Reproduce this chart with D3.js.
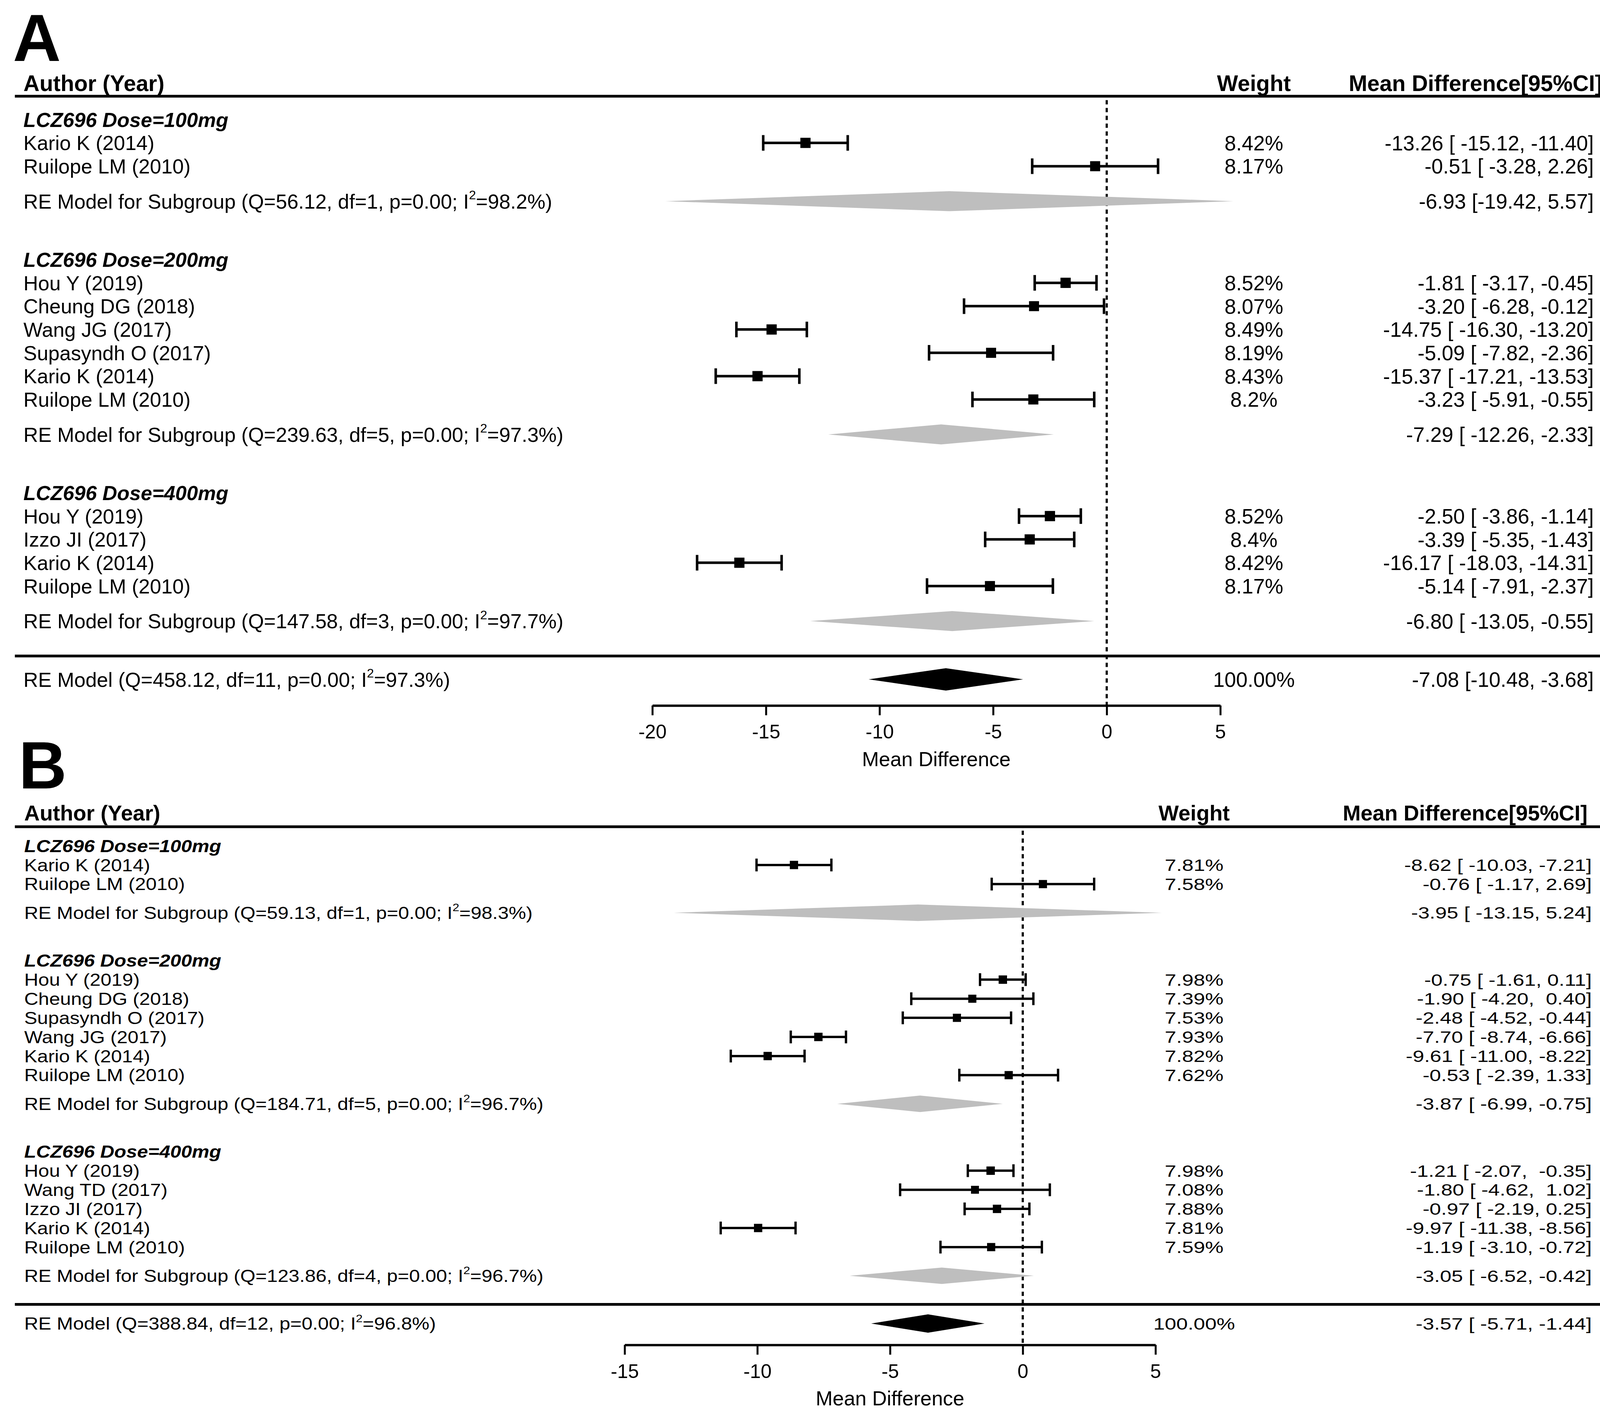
<!DOCTYPE html>
<html>
<head>
<meta charset="utf-8">
<script src="https://cdn.jsdelivr.net/npm/d3@7"></script>
<style>
body { margin: 0; background: #fff; }
text { white-space: pre; }
</style>
</head>
<body>
<div id="chart"></div>
<script>
// ---------- Panel A ----------
var aGroups = ["LCZ696 Dose=100mg", "LCZ696 Dose=200mg", "LCZ696 Dose=400mg"];
var aStudies = ["Kario K (2014)", "Ruilope LM (2010)",
    "Hou Y (2019)", "Cheung DG (2018)", "Wang JG (2017)", "Supasyndh O (2017)", "Kario K (2014)", "Ruilope LM (2010)",
    "Hou Y (2019)", "Izzo JI (2017)", "Kario K (2014)", "Ruilope LM (2010)"];
var aStudyGroup = [0, 0, 1, 1, 1, 1, 1, 1, 2, 2, 2, 2];
var aEst  = [-13.26, -0.51, -1.81, -3.20, -14.75, -5.09, -15.37, -3.23, -2.50, -3.39, -16.17, -5.14];
var aLow  = [-15.12, -3.28, -3.17, -6.28, -16.30, -7.82, -17.21, -5.91, -3.86, -5.35, -18.03, -7.91];
var aHigh = [-11.40, 2.26, -0.45, -0.12, -13.20, -2.36, -13.53, -0.55, -1.14, -1.43, -14.31, -2.37];
var aWeight = ["8.42%", "8.17%", "8.52%", "8.07%", "8.49%", "8.19%", "8.43%", "8.2%", "8.52%", "8.4%", "8.42%", "8.17%"];
var aCiText = ["-13.26 [ -15.12, -11.40]", "-0.51 [ -3.28, 2.26]",
    "-1.81 [ -3.17, -0.45]", "-3.20 [ -6.28, -0.12]", "-14.75 [ -16.30, -13.20]", "-5.09 [ -7.82, -2.36]",
    "-15.37 [ -17.21, -13.53]", "-3.23 [ -5.91, -0.55]",
    "-2.50 [ -3.86, -1.14]", "-3.39 [ -5.35, -1.43]", "-16.17 [ -18.03, -14.31]", "-5.14 [ -7.91, -2.37]"];
var aSubEst  = [-6.93, -7.29, -6.80];
var aSubLow  = [-19.42, -12.26, -13.05];
var aSubHigh = [5.57, -2.33, -0.55];
var aSubQ  = ["56.12", "239.63", "147.58"];
var aSubDf = ["1", "5", "3"];
var aSubI2 = ["98.2", "97.3", "97.7"];
var aSubCiText = ["-6.93 [-19.42, 5.57]", "-7.29 [ -12.26, -2.33]", "-6.80 [ -13.05, -0.55]"];
var aAll = [-7.08, -10.48, -3.68];          // estimate, low, high
var aAllStat = ["458.12", "11", "97.3"];    // Q, df, I2
var aAllText = ["100.00%", "-7.08 [-10.48, -3.68]"];
var aTicks = [-20, -15, -10, -5, 0, 5];

// ---------- Panel B ----------
var bGroups = ["LCZ696 Dose=100mg", "LCZ696 Dose=200mg", "LCZ696 Dose=400mg"];
var bStudies = ["Kario K (2014)", "Ruilope LM (2010)",
    "Hou Y (2019)", "Cheung DG (2018)", "Supasyndh O (2017)", "Wang JG (2017)", "Kario K (2014)", "Ruilope LM (2010)",
    "Hou Y (2019)", "Wang TD (2017)", "Izzo JI (2017)", "Kario K (2014)", "Ruilope LM (2010)"];
var bStudyGroup = [0, 0, 1, 1, 1, 1, 1, 1, 2, 2, 2, 2, 2];
// plotted positions (as drawn in the figure)
var bEst  = [-8.62, 0.76, -0.75, -1.90, -2.48, -7.70, -9.61, -0.53, -1.21, -1.80, -0.97, -9.97, -1.19];
var bLow  = [-10.03, -1.17, -1.61, -4.20, -4.52, -8.74, -11.00, -2.39, -2.07, -4.62, -2.19, -11.38, -3.10];
var bHigh = [-7.21, 2.69, 0.11, 0.40, -0.44, -6.66, -8.22, 1.33, -0.35, 1.02, 0.25, -8.56, 0.72];
var bWeight = ["7.81%", "7.58%", "7.98%", "7.39%", "7.53%", "7.93%", "7.82%", "7.62%",
    "7.98%", "7.08%", "7.88%", "7.81%", "7.59%"];
var bCiText = ["-8.62 [ -10.03, -7.21]", "-0.76 [ -1.17, 2.69]",
    "-0.75 [ -1.61, 0.11]", "-1.90 [ -4.20,  0.40]", "-2.48 [ -4.52, -0.44]", "-7.70 [ -8.74, -6.66]",
    "-9.61 [ -11.00, -8.22]", "-0.53 [ -2.39, 1.33]",
    "-1.21 [ -2.07,  -0.35]", "-1.80 [ -4.62,  1.02]", "-0.97 [ -2.19, 0.25]", "-9.97 [ -11.38, -8.56]",
    "-1.19 [ -3.10, -0.72]"];
var bSubEst  = [-3.95, -3.87, -3.05];
var bSubLow  = [-13.15, -6.99, -6.52];
var bSubHigh = [5.24, -0.75, 0.42];
var bSubQ  = ["59.13", "184.71", "123.86"];
var bSubDf = ["1", "5", "4"];
var bSubI2 = ["98.3", "96.7", "96.7"];
var bSubCiText = ["-3.95 [ -13.15, 5.24]", "-3.87 [ -6.99, -0.75]", "-3.05 [ -6.52, -0.42]"];
var bAll = [-3.57, -5.71, -1.44];
var bAllStat = ["388.84", "12", "96.8"];
var bAllText = ["100.00%", "-3.57 [ -5.71, -1.44]"];
var bTicks = [-15, -10, -5, 0, 5];

var W = 4152, H = 3637;
var FONT = "'Liberation Sans', Arial, sans-serif";

var svg = d3.select("#chart").append("svg")
    .attr("width", W)
    .attr("height", H)
    .style("background", "#fff");

svg.append("rect").attr("width", W).attr("height", H).attr("fill", "#fff");

// "(Q=.., df=.., p=0.00; I²=..%)" with a raised 2
function statLabel(sel, prefix, q, df, i2, fs) {
    sel.append("tspan").text(prefix + "(Q=" + q + ", df=" + df + ", p=0.00; I");
    sel.append("tspan").attr("dy", -0.45 * fs).style("font-size", (0.62 * fs) + "px").text("2");
    sel.append("tspan").attr("dy", 0.45 * fs).text("=" + i2 + "%)");
}

function drawPanel(p, L) {
    var g = svg.append("g");
    var x = d3.scaleLinear().domain(L.domain).range(L.range);
    var y = d3.scaleLinear().domain([0, 1]).range([L.row0, L.row0 + L.unit]);

    // work out the row of every line in the plot
    var rows = [], r = 0, lastSub = 0;
    p.groups.forEach(function(name, gi) {
        rows.push({type: "group", row: r, label: name});
        p.studies.forEach(function(s, i) {
            if (p.studyGroup[i] === gi) { r += 1; rows.push({type: "study", row: r, i: i}); }
        });
        r += 1.5;
        rows.push({type: "sub", row: r, gi: gi});
        lastSub = r;
        r += 2.5;
    });
    var lineRow = lastSub + 1.5, allRow = lastSub + 2.5, axisRow = allRow + 1.12;
    var axisY = y(axisRow);

    function leftPos(py) { return "translate(" + L.labelX + "," + py + ") scale(1," + L.leftSy + ")"; }
    function rightPos(px, py) { return "translate(" + px + "," + py + ") scale(1," + L.rightSy + ")"; }

    // panel letter
    g.append("text")
        .attr("x", L.letterX).attr("y", L.letterY)
        .style("font-family", FONT).style("font-weight", "bold").style("font-size", "170px")
        .text(L.letter);

    // column headers
    var headY = y(-1) - L.headGap;
    var head = g.append("g").style("font-family", FONT).style("font-weight", "bold")
        .style("font-size", L.headSize + "px");
    head.append("text").attr("x", L.labelX).attr("y", headY).text("Author (Year)");
    head.append("text").attr("x", L.weightX).attr("y", headY).attr("text-anchor", "middle").text("Weight");
    head.append("text").attr("x", L.headRight).attr("y", headY).attr("text-anchor", "end").text("Mean Difference[95%CI]");

    // horizontal rules
    [-1, lineRow].forEach(function(rr) {
        g.append("line")
            .attr("x1", 38).attr("x2", 4112)
            .attr("y1", y(rr)).attr("y2", y(rr))
            .attr("stroke", "#000").attr("stroke-width", 7);
    });

    // reference line at zero
    g.append("line")
        .attr("x1", x(0)).attr("x2", x(0))
        .attr("y1", y(-1) + 10).attr("y2", axisY)
        .attr("stroke", "#000").attr("stroke-width", 5.5)
        .attr("stroke-dasharray", "11,9");

    var left = g.append("g").style("font-family", FONT).style("font-size", L.leftSize + "px");
    var right = g.append("g").style("font-family", FONT).style("font-size", L.rightSize + "px");

    // group headings
    left.selectAll(".grp")
        .data(rows.filter(function(d) { return d.type === "group"; }))
        .enter().append("text")
        .attr("class", "grp")
        .attr("transform", function(d) { return leftPos(y(d.row)); })
        .attr("dy", "0.36em")
        .style("font-weight", "bold").style("font-style", "italic")
        .text(function(d) { return d.label; });

    var studyRows = rows.filter(function(d) { return d.type === "study"; });
    var maxW = d3.max(p.weight, function(w) { return parseFloat(w); });
    function half(d) { return L.unit * L.box / 2 * Math.sqrt(parseFloat(p.weight[d.i]) / maxW); }

    left.selectAll(".study")
        .data(studyRows)
        .enter().append("text")
        .attr("class", "study")
        .attr("transform", function(d) { return leftPos(y(d.row)); })
        .attr("dy", "0.36em")
        .text(function(d) { return p.studies[d.i]; });

    right.selectAll(".wt")
        .data(studyRows)
        .enter().append("text")
        .attr("class", "wt")
        .attr("transform", function(d) { return rightPos(L.weightX, y(d.row)); })
        .attr("dy", "0.36em")
        .attr("text-anchor", "middle")
        .text(function(d) { return p.weight[d.i]; });

    right.selectAll(".ci")
        .data(studyRows)
        .enter().append("text")
        .attr("class", "ci")
        .attr("transform", function(d) { return rightPos(L.ciRight, y(d.row)); })
        .attr("dy", "0.36em")
        .attr("text-anchor", "end")
        .text(function(d) { return p.ciText[d.i]; });

    // error bars
    var bars = g.selectAll(".bar")
        .data(studyRows)
        .enter().append("g")
        .attr("class", "bar")
        .attr("stroke", "#000").attr("stroke-width", L.lw);
    var cap = L.unit * 0.335;
    bars.append("line")
        .attr("x1", function(d) { return x(p.low[d.i]); })
        .attr("x2", function(d) { return x(p.high[d.i]); })
        .attr("y1", function(d) { return y(d.row); })
        .attr("y2", function(d) { return y(d.row); });
    bars.append("line")
        .attr("x1", function(d) { return x(p.low[d.i]); })
        .attr("x2", function(d) { return x(p.low[d.i]); })
        .attr("y1", function(d) { return y(d.row) - cap; })
        .attr("y2", function(d) { return y(d.row) + cap; });
    bars.append("line")
        .attr("x1", function(d) { return x(p.high[d.i]); })
        .attr("x2", function(d) { return x(p.high[d.i]); })
        .attr("y1", function(d) { return y(d.row) - cap; })
        .attr("y2", function(d) { return y(d.row) + cap; });
    bars.append("rect")
        .attr("stroke", "none").attr("fill", "#000")
        .attr("x", function(d) { return x(p.est[d.i]) - half(d); })
        .attr("y", function(d) { return y(d.row) - half(d); })
        .attr("width", function(d) { return 2 * half(d); })
        .attr("height", function(d) { return 2 * half(d); });

    // subgroup summaries
    var subRows = rows.filter(function(d) { return d.type === "sub"; });
    subRows.forEach(function(d) {
        var t = left.append("text").attr("transform", leftPos(y(d.row))).attr("dy", "0.36em");
        statLabel(t, "RE Model for Subgroup ", p.subQ[d.gi], p.subDf[d.gi], p.subI2[d.gi], L.leftSize);
    });
    g.selectAll(".subpoly")
        .data(subRows)
        .enter().append("path")
        .attr("class", "subpoly")
        .attr("fill", "#bebebe")
        .attr("d", function(d) {
            var cy = y(d.row), h = L.unit * 0.43;
            return "M" + x(p.subLow[d.gi]) + "," + cy +
                "L" + x(p.subEst[d.gi]) + "," + (cy - h) +
                "L" + x(p.subHigh[d.gi]) + "," + cy +
                "L" + x(p.subEst[d.gi]) + "," + (cy + h) + "Z";
        });
    right.selectAll(".subci")
        .data(subRows)
        .enter().append("text")
        .attr("class", "subci")
        .attr("transform", function(d) { return rightPos(L.ciRight, y(d.row)); })
        .attr("dy", "0.36em")
        .attr("text-anchor", "end")
        .text(function(d) { return p.subCiText[d.gi]; });

    // overall model
    var cy = y(allRow), h = L.unit * 0.48;
    var ta = left.append("text").attr("transform", leftPos(cy)).attr("dy", "0.36em");
    statLabel(ta, "RE Model ", p.allStat[0], p.allStat[1], p.allStat[2], L.leftSize);
    g.append("path")
        .attr("fill", "#000")
        .attr("d", "M" + x(p.all[1]) + "," + cy + "L" + x(p.all[0]) + "," + (cy - h) +
            "L" + x(p.all[2]) + "," + cy + "L" + x(p.all[0]) + "," + (cy + h) + "Z");
    right.append("text").attr("transform", rightPos(L.weightX, cy)).attr("dy", "0.36em")
        .attr("text-anchor", "middle").text(p.allText[0]);
    right.append("text").attr("transform", rightPos(L.ciRight, cy)).attr("dy", "0.36em")
        .attr("text-anchor", "end").text(p.allText[1]);

    // x axis
    var axis = g.append("g")
        .attr("transform", "translate(0," + axisY + ")")
        .call(d3.axisBottom(x).tickValues(p.ticks).tickSize(25).tickSizeOuter(0).tickPadding(24)
            .tickFormat(function(d) { return String(d); }));
    axis.select(".domain").attr("stroke", "#000").attr("stroke-width", 6);
    axis.selectAll(".tick line").attr("stroke", "#000").attr("stroke-width", 5);
    axis.selectAll(".tick text")
        .attr("fill", "#000")
        .style("font-family", FONT).style("font-size", "50px");
    g.append("text")
        .attr("x", (L.range[0] + L.range[1]) / 2)
        .attr("y", axisY + 155)
        .attr("text-anchor", "middle")
        .style("font-family", FONT).style("font-size", "52px")
        .text("Mean Difference");
}

drawPanel({
    groups: aGroups, studies: aStudies, studyGroup: aStudyGroup,
    est: aEst, low: aLow, high: aHigh, weight: aWeight, ciText: aCiText,
    subEst: aSubEst, subLow: aSubLow, subHigh: aSubHigh,
    subQ: aSubQ, subDf: aSubDf, subI2: aSubI2, subCiText: aSubCiText,
    all: aAll, allStat: aAllStat, allText: aAllText, ticks: aTicks
}, {
    letter: "A", letterX: 33, letterY: 156,
    domain: [-20, 5], range: [1670, 3124],
    row0: 306, unit: 59.7,
    labelX: 60, weightX: 3210, ciRight: 4080, headRight: 4102,
    headSize: 57, headGap: 13, leftSize: 52, leftSy: 1, rightSize: 53, rightSy: 1, lw: 6.5, box: 0.44
});

drawPanel({
    groups: bGroups, studies: bStudies, studyGroup: bStudyGroup,
    est: bEst, low: bLow, high: bHigh, weight: bWeight, ciText: bCiText,
    subEst: bSubEst, subLow: bSubLow, subHigh: bSubHigh,
    subQ: bSubQ, subDf: bSubDf, subI2: bSubI2, subCiText: bSubCiText,
    all: bAll, allStat: bAllStat, allText: bAllText, ticks: bTicks
}, {
    letter: "B", letterX: 48, letterY: 2018,
    domain: [-15, 5], range: [1599, 2958],
    row0: 2165, unit: 48.9,
    labelX: 62, weightX: 3057, ciRight: 4075, headRight: 4064,
    headSize: 55, headGap: 16, leftSize: 50, leftSy: 0.87, rightSize: 53, rightSy: 0.8, lw: 6, box: 0.44
});
</script>
</body>
</html>
